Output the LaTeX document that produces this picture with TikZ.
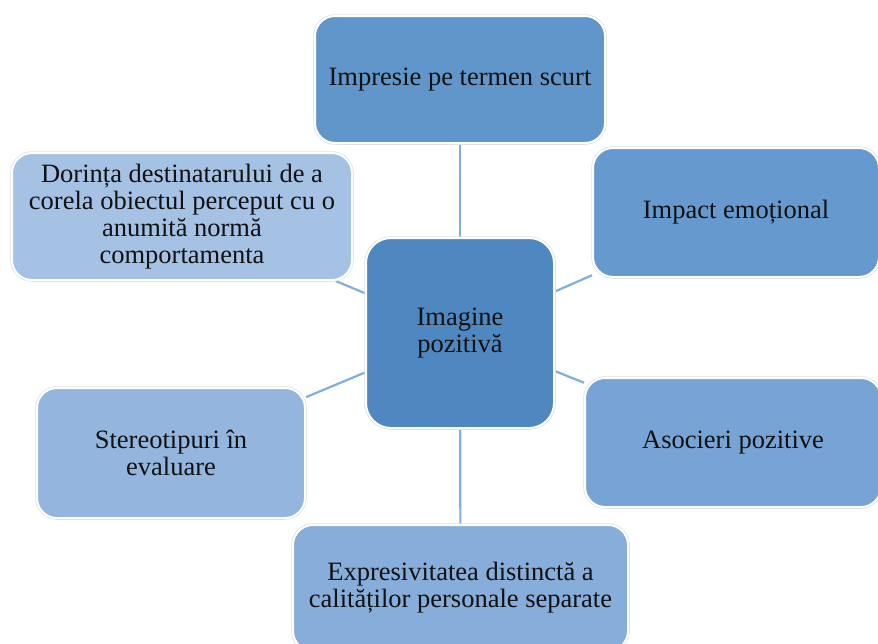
\documentclass[tikz,border=0pt]{standalone}
\usepackage{fontspec}
\setmainfont{Liberation Serif}
\usetikzlibrary{backgrounds}
\definecolor{cCenter}{HTML}{4F88C1}
\definecolor{cTop}{HTML}{6096CA}
\definecolor{cRU}{HTML}{6699CD}
\definecolor{cRL}{HTML}{77A4D4}
\definecolor{cBot}{HTML}{87ADDA}
\definecolor{cLL}{HTML}{94B6DE}
\definecolor{cLU}{HTML}{A5C2E5}
\definecolor{cLine}{HTML}{7FAEDF}
\definecolor{cText}{HTML}{111111}
\tikzset{
  box/.style={rectangle, rounded corners=20pt, inner sep=0pt, align=center,
    preaction={draw=black!12, line width=3.5pt},
    draw=white, line width=2pt, text=cText,
    font=\fontsize{26.5}{27}\selectfont},
  link/.style={draw=cLine, line width=2.2pt}
}
\begin{document}
\begin{tikzpicture}[x=1pt,y=-1pt]
\useasboundingbox (0,0) rectangle (878,643);
\clip (0,0) rectangle (878,643);
\node[box, fill=cTop, minimum width=290pt, minimum height=127pt] (top) at (460,79.5) {Impresie pe termen scurt};
\node[box, fill=cLU, minimum width=340pt, minimum height=127pt] (lu) at (182,216.5) {Dorința destinatarului de a\\corela obiectul perceput cu o\\anumită normă\\comportamenta};
\node[box, fill=cRU, minimum width=286pt, minimum height=129pt] (ru) at (736,212.5) {Impact emoțional};
\node[box, fill=cRL, minimum width=296pt, minimum height=129pt] (rl) at (733,442.5) {Asocieri pozitive};
\node[box, fill=cBot, minimum width=335pt, minimum height=126pt] (bot) at (460.5,588) {Expresivitatea distinctă a\\calităților personale separate};
\node[box, fill=cLL, minimum width=268pt, minimum height=130pt] (ll) at (171,453) {Stereotipuri în\\evaluare};
\node[box, fill=cCenter, rounded corners=25pt, minimum width=188pt, minimum height=190pt] (c) at (460,333) {Imagine\\pozitivă};
\begin{scope}[on background layer]
\draw[link] (c) -- (top);
\draw[link] (c) -- (lu);
\draw[link] (c) -- (ru);
\draw[link] (c) -- (rl);
\draw[link] (c) -- (bot);
\draw[link] (c) -- (ll);
\end{scope}
\end{tikzpicture}
\end{document}
